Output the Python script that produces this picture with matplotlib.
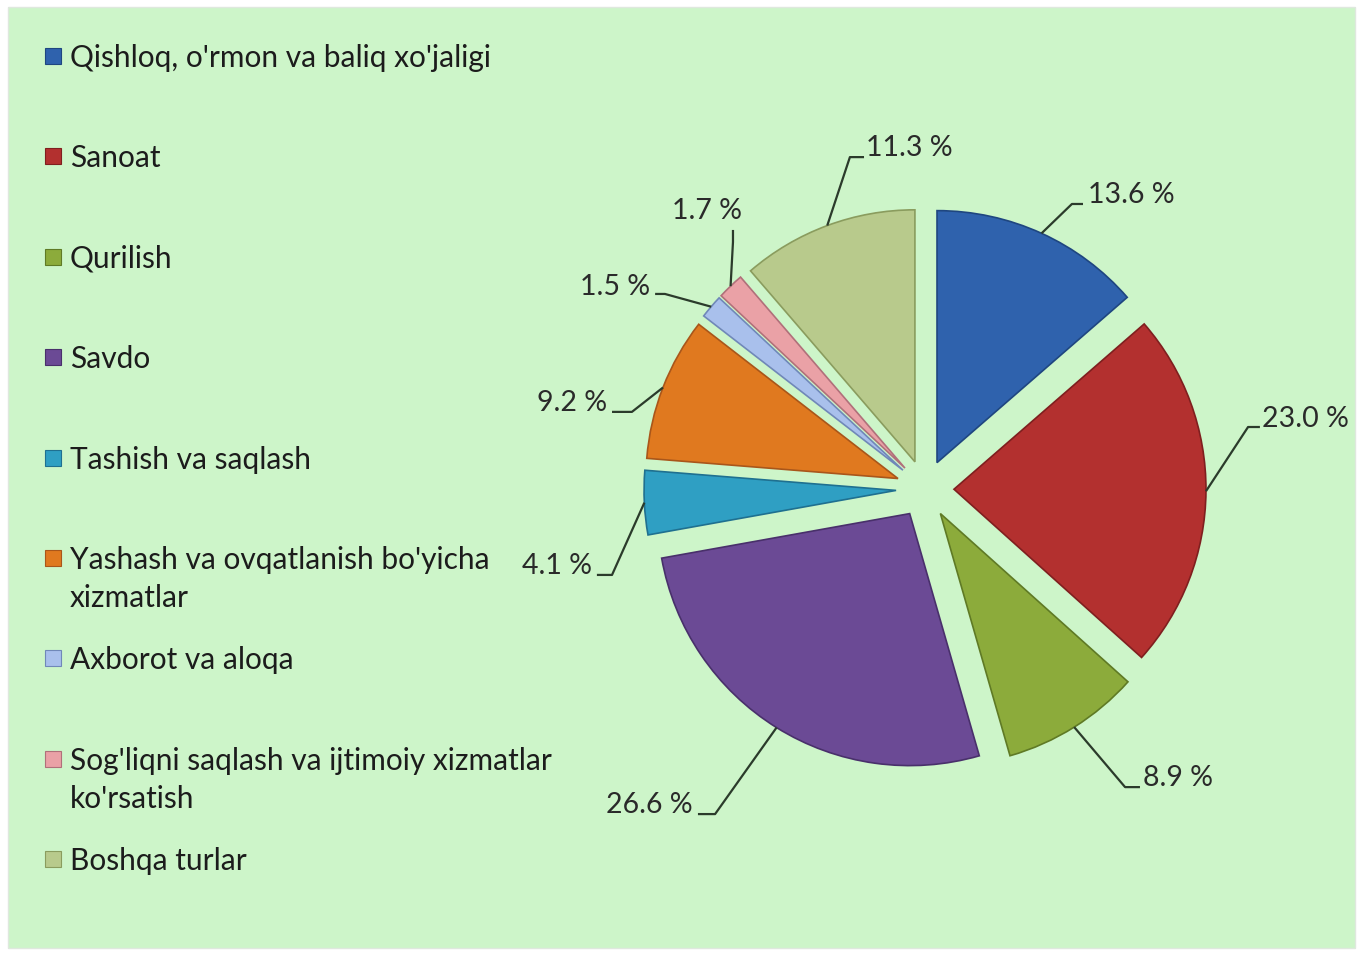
import matplotlib
matplotlib.use("Agg")
import matplotlib.pyplot as plt
from matplotlib.patches import Rectangle
import numpy as np

# data
sectors = ["Qishloq, o'rmon va baliq xo'jaligi", "Sanoat", "Qurilish", "Savdo",
           "Tashish va saqlash", "Yashash va ovqatlanish bo'yicha\nxizmatlar",
           "Axborot va aloqa", "Sog'liqni saqlash va ijtimoiy xizmatlar\nko'rsatish",
           "Boshqa turlar"]
shares = [13.6, 23.0, 8.9, 26.6, 4.1, 9.2, 1.5, 1.7, 11.3]
pct_labels = ["13.6 %", "23.0 %", "8.9 %", "26.6 %", "4.1 %", "9.2 %", "1.5 %", "1.7 %", "11.3 %"]

colors = ['#2f62ad', '#b3302f', '#8cab3b', '#6b4a95', '#2f9fc3',
          '#e0791f', '#a9c0ec', '#eaa1a6', '#b8ca8c']
edges = ['#1f4680', '#7f1f1f', '#5f7a25', '#49306b', '#1f7090',
         '#a9561a', '#7088b8', '#b0707a', '#8a9c5e']

# layout of the leader lines (data units): elbow, end, text pos, alignment
elbows = [(0.583, 1.131), (1.282, 0.246), (0.794, -1.183), (-0.833, -1.290),
          (-1.242, -0.341), (-1.163, 0.306), (-1.032, 0.774), (-0.762, 0.980),
          (-0.298, 1.317)]
ends = [(0.627, 1.131), (1.329, 0.246), (0.853, -1.183), (-0.901, -1.290),
        (-1.302, -0.341), (-1.242, 0.306), (-1.071, 0.774), (-0.762, 1.028),
        (-0.242, 1.317)]
text_pos = [(0.647, 1.171), (1.337, 0.282), (0.865, -1.143), (-0.921, -1.250),
            (-1.321, -0.302), (-1.262, 0.345), (-1.091, 0.806), (-0.865, 1.107),
            (-0.234, 1.357)]
text_ha = ['left', 'left', 'left', 'right', 'right', 'right', 'right', 'center', 'left']

W, H = 1362, 954
fig = plt.figure(figsize=(W / 100, H / 100), dpi=100)
fig.patch.set_facecolor('white')
fig.patches.append(Rectangle((8 / W, 5 / H), 1347 / W, 941 / H, transform=fig.transFigure,
                             facecolor='#cdf5c9', edgecolor='#dfe8de', lw=1, zorder=-10))

font = 'Lato'

# pie
ax = fig.add_axes([547 / W, 86 / H, 756 / W, 756 / H])
wedges, _ = ax.pie(shares, colors=colors, startangle=90, counterclock=False,
                   explode=[0.115] * len(shares), radius=1,
                   wedgeprops=dict(linewidth=1.2))
for w, ec in zip(wedges, edges):
    w.set_edgecolor(ec)

for i, w in enumerate(wedges):
    mid = np.deg2rad((w.theta1 + w.theta2) / 2)
    cx, cy = w.center
    ax_, ay_ = cx + np.cos(mid), cy + np.sin(mid)
    xs = [ax_, elbows[i][0], ends[i][0]]
    ys = [ay_, elbows[i][1], ends[i][1]]
    ax.plot(xs, ys, color='#2b3b2b', lw=1.6, solid_capstyle='butt')
    ax.text(text_pos[i][0], text_pos[i][1], pct_labels[i], ha=text_ha[i], va='center',
            fontsize=20.5, color='#2a2a2a', family=font, clip_on=False)

ax.set_xlim(-1.5, 1.5)
ax.set_ylim(-1.5, 1.5)
ax.axis('off')

# legend
for i, name in enumerate(sectors):
    yc = 57 + i * 100.4
    fig.patches.append(Rectangle((45 / W, 1 - (yc + 8) / H), 16 / W, 16 / H,
                                 transform=fig.transFigure, facecolor=colors[i],
                                 edgecolor=edges[i], lw=0.8))
    fig.text(70 / W, 1 - (yc - 13) / H, name, ha='left', va='top', fontsize=21.5,
             color='#1c1c1c', family=font, linespacing=1.45)

fig.savefig('out.png', dpi=100)
